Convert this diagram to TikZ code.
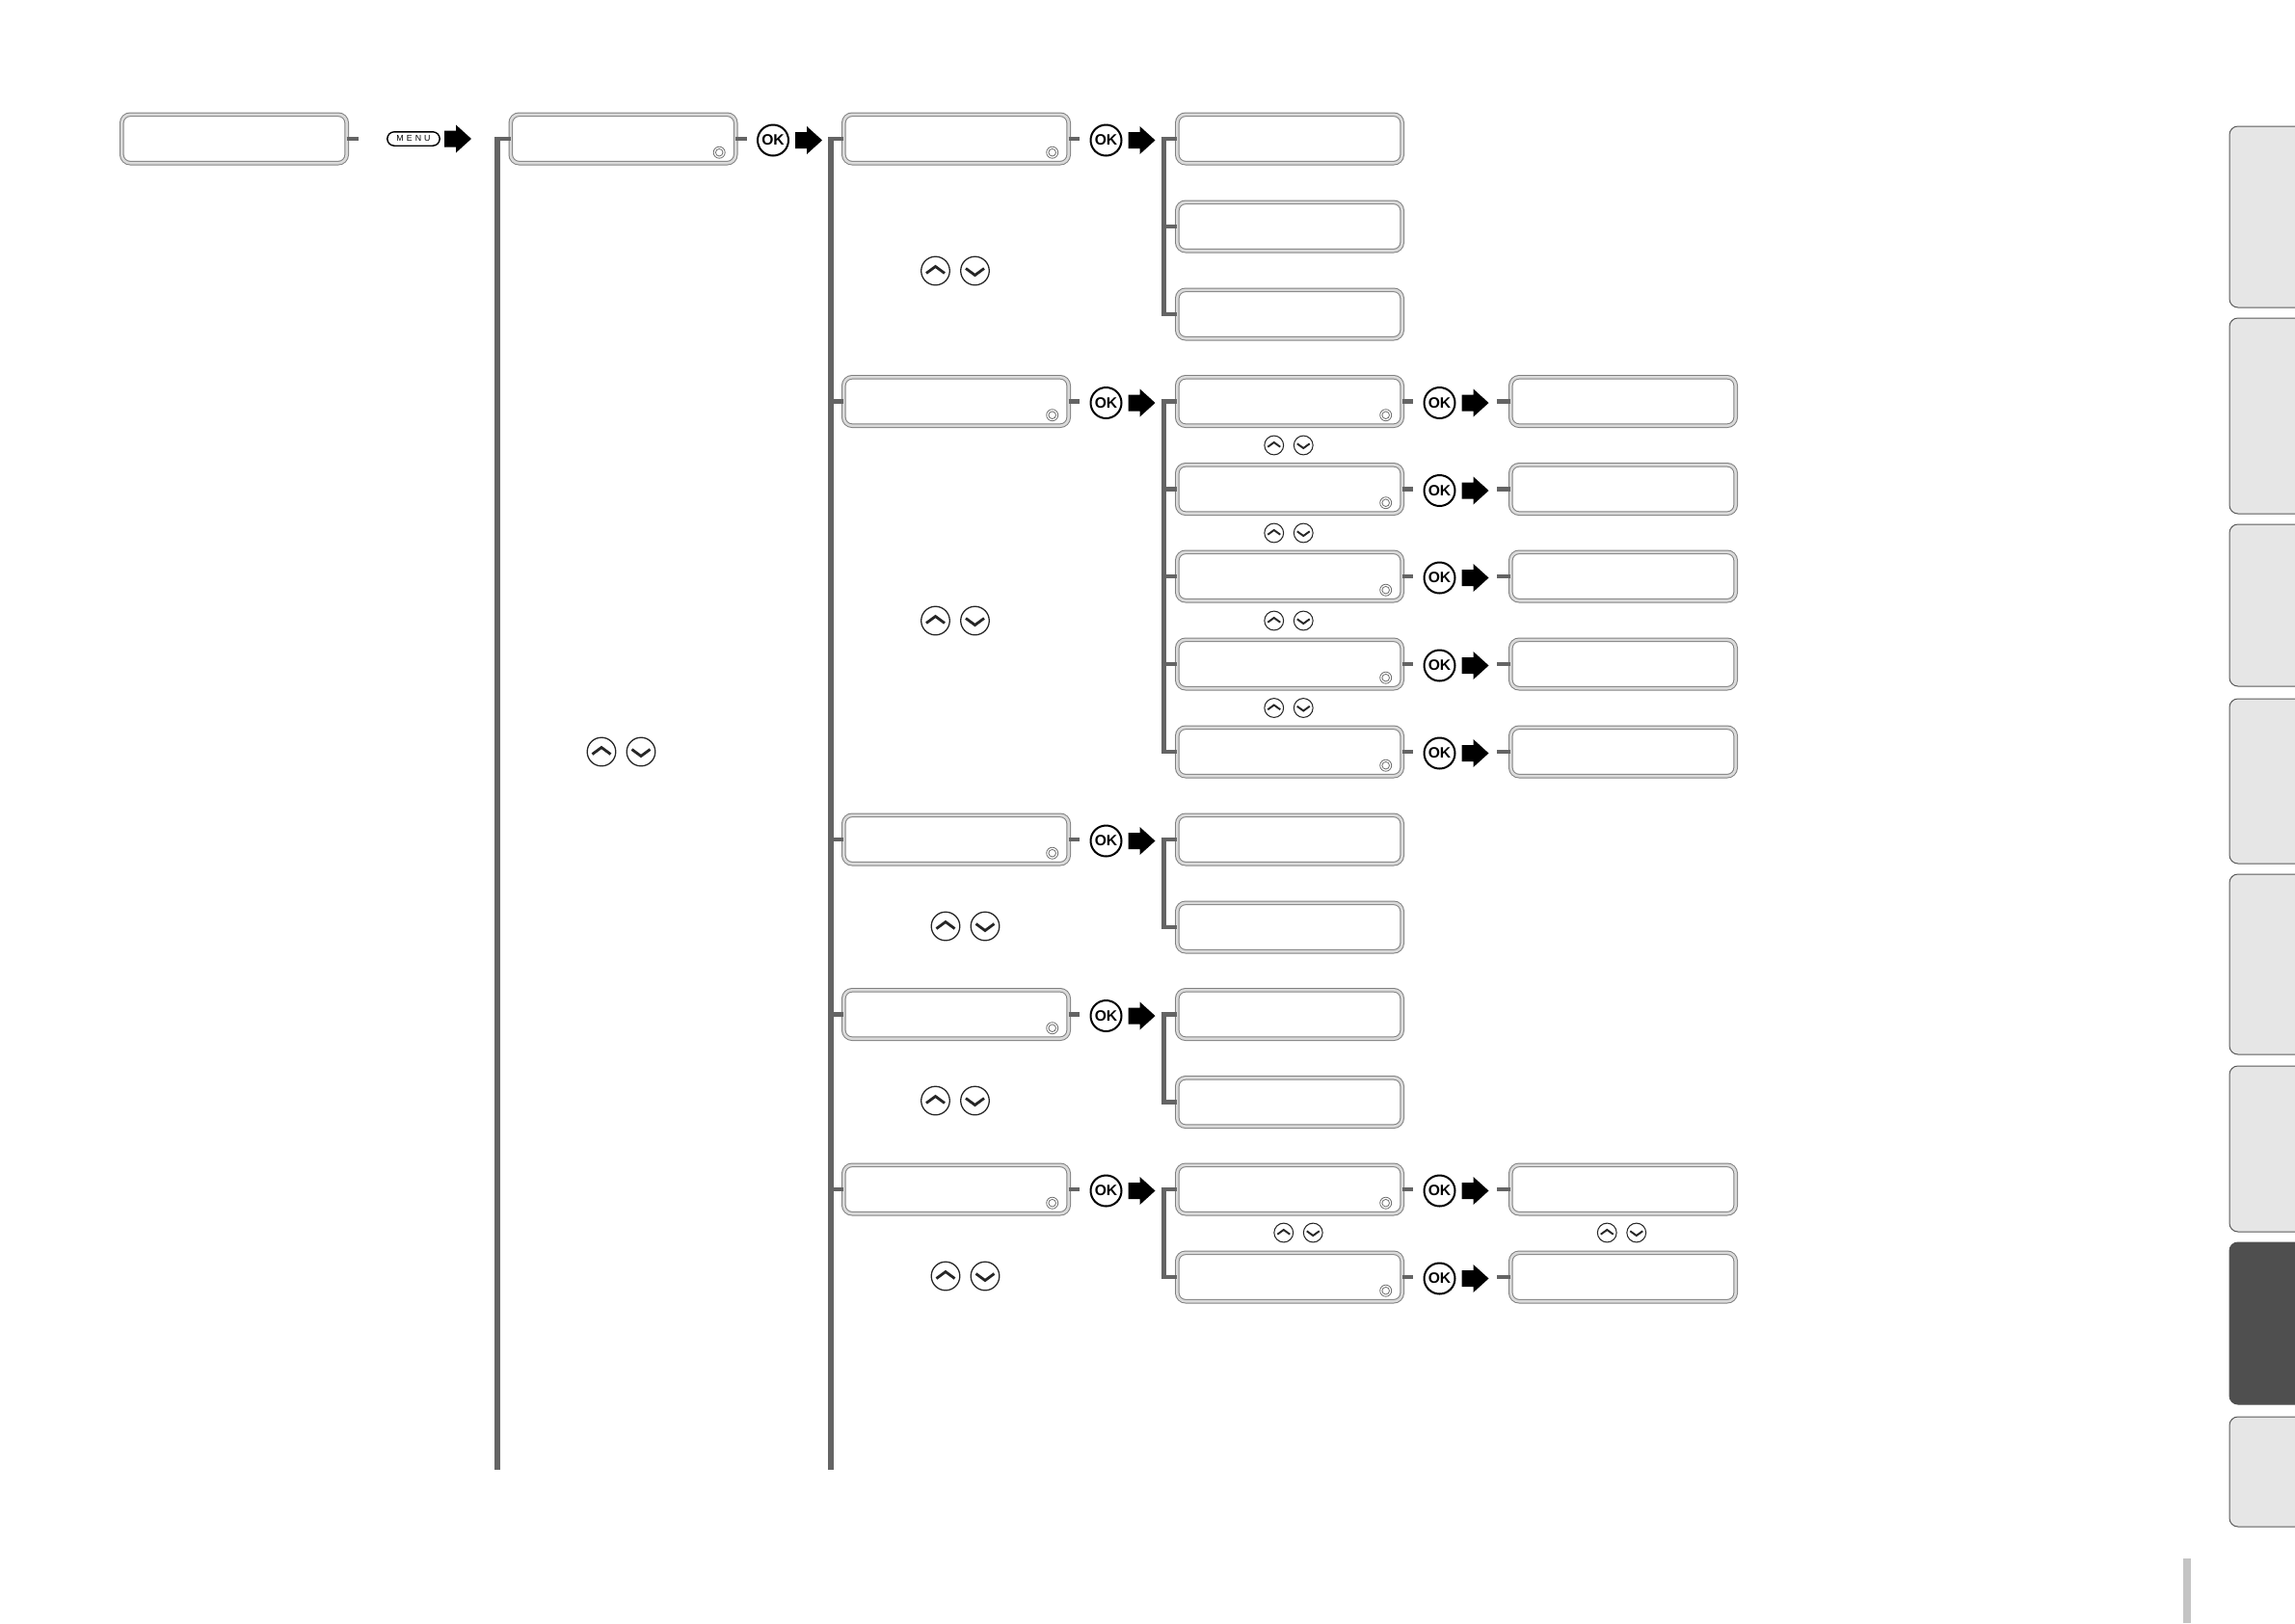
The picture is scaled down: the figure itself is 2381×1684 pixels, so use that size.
\documentclass[tikz,border=0pt]{standalone}
\usepackage{fontspec}
\setmainfont{Liberation Sans}
\usetikzlibrary{calc}
\definecolor{trunkgray}{HTML}{646464}
\definecolor{boxline}{HTML}{808080}
\definecolor{boxgap}{HTML}{DADADA}
\definecolor{tabfill}{HTML}{E6E6E6}
\definecolor{tabline}{HTML}{5A5A5A}
\definecolor{tabdark}{HTML}{4F4F4F}
\definecolor{iconline}{HTML}{6E6E6E}
\definecolor{pagebar}{HTML}{C4C4C4}
\begin{document}
\begin{tikzpicture}[x=0.25pt,y=-0.25pt,line join=miter,
  lcd/.style={draw=boxline, line width=0.25pt, double=boxgap, double distance=0.65pt,
    rounded corners=2.2pt, minimum width=58.35pt, minimum height=12.6pt, inner sep=0pt, outer sep=0pt},
  trunk/.style={draw=trunkgray, line width=1.45pt},
  stub/.style={draw=trunkgray, line width=1.05pt},
  okbtn/.style={circle, draw=black, line width=0.5pt, minimum size=8pt, inner sep=0pt,
    font=\bfseries\fontsize{3.9}{3.9}\selectfont},
  udbig/.style={circle, draw=black!85, line width=0.32pt, minimum size=7.4pt, inner sep=0pt},
  udsmall/.style={circle, draw=black!85, line width=0.26pt, minimum size=4.95pt, inner sep=0pt},
  chevbig/.style={draw=black!85, line width=0.7pt},
  chevsmall/.style={draw=black!85, line width=0.48pt},
  icon/.style={draw=iconline, line width=0.2pt},
  menubtn/.style={draw=black, line width=0.35pt, rounded corners=1.8pt, minimum width=13.6pt,
    minimum height=3.6pt, inner sep=0pt, font=\fontsize{2.2}{2.2}\selectfont\addfontfeature{LetterSpace=35}},
  tab/.style={fill=tabfill, draw=tabline, line width=0.25pt, rounded corners=2.2pt},
  blockarrow/.pic={\fill[black] (0,-8.5) -- (12,-8.5) -- (12,-14.5) -- (28,0) -- (12,14.5) -- (12,8.5) -- (0,8.5) -- cycle;},
  updownbig/.pic={
    \node[udbig] (-u) at (-20.5,0) {};
    \node[udbig] (-d) at (20.5,0) {};
    \draw[chevbig] (-30,2.5) -- (-20.5,-4.5) -- (-11,2.5);
    \draw[chevbig] (11,-2.5) -- (20.5,4.5) -- (30,-2.5);},
  updownsmall/.pic={
    \node[udsmall] (-u) at (-15.25,0) {};
    \node[udsmall] (-d) at (15.25,0) {};
    \draw[chevsmall] (-21.75,1.7) -- (-15.25,-3) -- (-8.75,1.7);
    \draw[chevsmall] (8.75,-1.7) -- (15.25,3) -- (21.75,-1.7);}
]
\fill[white] (0,0) rectangle (2381,1684);
\useasboundingbox (0,0) rectangle (2381,1684);

% side tabs
\foreach \t/\b in {131/319,330/533,544/712,725/896,907/1094,1106/1278,1470/1584}
  \filldraw[tab] (2400,\t) -- (2313,\t) -- (2313,\b) -- (2400,\b) -- cycle;
\filldraw[tab, fill=tabdark, draw=tabdark] (2400,1289) -- (2313,1289) -- (2313,1457) -- (2400,1457) -- cycle;
\fill[pagebar] (2265,1617) rectangle (2273,1684);

% column 0 and MENU
\node[lcd] (b0) at (243,144) {};
\draw[stub] (b0.east) -- ++(12,0);
\node[menubtn] (menu) at (429,144) {MENU};
\pic at (461,144) {blockarrow};

% column 1
\node[lcd] (b1) at (646.5,144) {};
\draw[stub] (b1.east) -- ++(11.5,0);
\node[okbtn] (ok1) at (802,145.5) {OK};
\pic at (825,145.5) {blockarrow};
\coordinate (T1) at (516,1525);
\draw[trunk] ($(b1.west -| T1)+(0,-2)$) -- (T1);
\draw[stub] ($(b1.west -| T1)+(-2.9,0)$) -- (b1.west);
\pic (udmain) at (644.5,780) {updownbig};

% column 2
\foreach \n/\yy in {c2a/144,c2b/416.5,c2c/871,c2d/1052.5,c2e/1234} {
  \node[lcd] (\n) at (992,\yy) {};
  \draw[stub] (\n.east) -- ++(11.5,0);
  \node[okbtn] (ok\n) at (1147.5,\yy+1.5) {OK};
  \pic at (1170.5,\yy+1.5) {blockarrow};
}
\coordinate (T2) at (862,1525);
\draw[trunk] ($(c2a.west -| T2)+(0,-2)$) -- (T2);
\foreach \n in {c2a,c2b,c2c,c2d,c2e}
  \draw[stub] ($(\n.west -| T2)+(-2.9,0)$) -- (\n.west);
\pic (udA) at (991,281) {updownbig};
\pic (udB) at (991,644) {updownbig};
\pic (udC) at (1001.5,961) {updownbig};
\pic (udD) at (991,1142) {updownbig};
\pic (udE) at (1001.5,1324) {updownbig};

% column 3 (plain)
\foreach \n/\yy in {d1/144,d2/235,d3/326,d9/871,d10/962,d11/1052.5,d12/1143.5}
  \node[lcd] (\n) at (1338,\yy) {};
% column 3 with next level, and column 4
\foreach \n/\yy in {d4/416.5,d5/507.5,d6/598,d7/689,d8/780,d13/1234,d14/1325} {
  \node[lcd] (\n) at (1338,\yy) {};
  \draw[stub] (\n.east) -- ++(11.5,0);
  \node[okbtn] (ok\n) at (1493.5,\yy+1.5) {OK};
  \pic at (1516.5,\yy+1.5) {blockarrow};
  \node[lcd] (e\n) at (1684,\yy) {};
  \draw[stub] (e\n.west) -- ++(-14,0);
}
\coordinate (T3) at (1207.5,0);
\foreach \f/\l in {d1/d3,d4/d8,d9/d10,d11/d12,d13/d14}
  \draw[trunk] ($(\f.west -| T3)+(0,-2)$) -- ($(\l.west -| T3)+(0,2)$);
\foreach \n in {d1,d2,d3,d4,d5,d6,d7,d8,d9,d10,d11,d12,d13,d14}
  \draw[stub] ($(\n.west -| T3)+(-2.9,0)$) -- (\n.west);

\pic (ud45) at (1337,462) {updownsmall};
\pic (ud56) at (1337,553) {updownsmall};
\pic (ud67) at (1337,644) {updownsmall};
\pic (ud78) at (1337,734.5) {updownsmall};
\pic (udE3) at (1347,1279) {updownsmall};
\pic (udE4) at (1682.5,1279) {updownsmall};

% small ring icons
\foreach \n in {b1,c2a,c2b,c2c,c2d,c2e,d4,d5,d6,d7,d8,d13,d14}
  \draw[icon] ($(\n.south east)+(-17,-11)$) circle[radius=1.5pt] circle[radius=0.95pt];
\end{tikzpicture}
\end{document}
